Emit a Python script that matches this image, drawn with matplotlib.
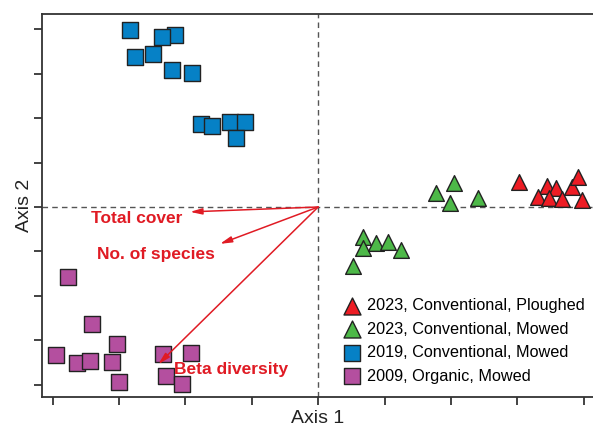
import numpy as np
import matplotlib as mpl
import matplotlib.pyplot as plt

mpl.rcParams['font.family'] = ['Liberation Sans', 'DejaVu Sans']

# Coordenadas de los sitios (unidades de los ejes)
rojo_x = [3.03, 3.45, 3.32, 3.59, 3.48, 3.67, 3.82, 3.91, 3.98]
rojo_y = [0.56, 0.47, 0.23, 0.43, 0.20, 0.18, 0.45, 0.68, 0.16]

verde_x = [1.78, 2.05, 1.99, 2.41, 0.67, 0.67, 0.87, 1.06, 1.25, 0.52]
verde_y = [0.32, 0.54, 0.09, 0.20, -0.68, -0.92, -0.80, -0.79, -0.97, -1.33]

azul_x = [-2.84, -2.16, -2.35, -2.76, -2.49, -2.20, -1.90, -1.76, -1.60, -1.33, -1.10, -1.24]
azul_y = [3.99, 3.87, 3.83, 3.38, 3.45, 3.09, 3.02, 1.87, 1.82, 1.91, 1.91, 1.55]

morado_x = [-3.77, -3.41, -3.95, -3.63, -3.44, -3.11, -3.03, -3.00, -2.34, -2.29, -2.05, -1.92]
morado_y = [-1.58, -2.64, -3.33, -3.52, -3.47, -3.49, -3.09, -3.94, -3.31, -3.81, -3.99, -3.29]

etiquetas = ["2023, Conventional, Ploughed", "2023, Conventional, Mowed",
             "2019, Conventional, Mowed", "2009, Organic, Mowed"]

# Vectores ajustados
vec_nombres = ["Total cover", "No. of species", "Beta diversity"]
vec_x = [-1.93, -1.48, -2.41]
vec_y = [-0.11, -0.83, -3.54]
texto_x = [-2.73, -2.45, -1.31]
texto_y = [-0.27, -1.07, -3.67]

rojo_txt = '#e01b24'

fig = plt.figure(figsize=(5.93, 4.28), dpi=100)
ax = fig.add_axes([0.0708, 0.0724, 0.93, 0.895])

ax.axhline(0, color='#555555', lw=1, ls=(0, (4, 3)), zorder=1)
ax.axvline(0, color='#555555', lw=1, ls=(0, (4, 3)), zorder=1)

ms = 128
ax.scatter(morado_x, morado_y, s=ms, marker='s', c='#b44f9f', edgecolors='#222222', linewidths=1, zorder=3, label=etiquetas[3])
ax.scatter(azul_x, azul_y, s=ms, marker='s', c='#0681c6', edgecolors='#222222', linewidths=1, zorder=3, label=etiquetas[2])
ax.scatter(verde_x, verde_y, s=ms, marker='^', c='#4db848', edgecolors='#222222', linewidths=1, zorder=3, label=etiquetas[1])
ax.scatter(rojo_x, rojo_y, s=ms, marker='^', c='#ed1c24', edgecolors='#222222', linewidths=1, zorder=3, label=etiquetas[0])

for i in range(len(vec_nombres)):
    ax.annotate('', xy=(vec_x[i], vec_y[i]), xytext=(0, 0),
                arrowprops=dict(arrowstyle='-|>,head_length=0.7,head_width=0.18',
                                color=rojo_txt, lw=1.1, shrinkA=0, shrinkB=0), zorder=4)
    ax.text(texto_x[i], texto_y[i], vec_nombres[i], color=rojo_txt, fontsize=12.5,
            fontweight='bold', ha='center', va='center', zorder=5)

handles, labels = ax.get_legend_handles_labels()
orden = [3, 2, 1, 0]
ax.legend([handles[i] for i in orden], [labels[i] for i in orden],
          loc='upper left', bbox_to_anchor=(0.541, 0.258), frameon=False,
          fontsize=11.7, handletextpad=0.25, labelspacing=0.52, borderpad=0,
          handlelength=1.4, borderaxespad=0, markerscale=1.08)

ax.set_xlim(-4.163, 4.15)
ax.set_ylim(-4.279, 4.347)
ax.set_xticks(np.arange(-4, 5, 1))
ax.set_yticks(np.arange(-4, 5, 1))
ax.set_xticklabels([])
ax.set_yticklabels([])
ax.tick_params(direction='out', length=6, width=1.2, color='#222222')
for lado in ['left', 'top', 'bottom']:
    ax.spines[lado].set_linewidth(1.3)
    ax.spines[lado].set_color('#333333')
ax.spines['right'].set_visible(False)

ax.set_xlabel('Axis 1', fontsize=14, color='#222222', labelpad=0)
ax.set_ylabel('Axis 2', fontsize=14, color='#222222', labelpad=-3)

fig.savefig('out.png', dpi=100)
